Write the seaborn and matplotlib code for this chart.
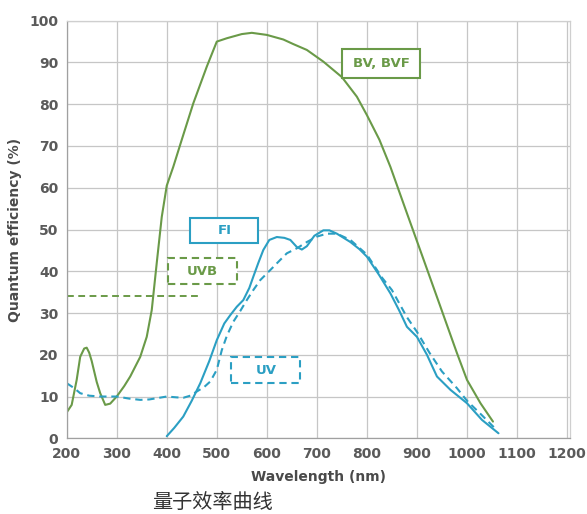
import matplotlib
matplotlib.use("Agg")
import matplotlib.pyplot as plt
import seaborn as sns
from matplotlib.patches import Rectangle

# BV, BVF (green solid)
bv_wl = [200, 210, 220, 227, 235, 240, 245, 250, 260, 267, 277, 287, 300, 315, 327,
         347, 360, 370, 380, 390, 400, 413, 430, 453, 480, 500, 520, 550, 570, 600,
         633, 653, 680, 713, 750, 780, 800, 825, 847, 880, 910, 947, 980, 1000, 1027, 1052]
bv_qe = [6.2, 8, 14, 19.5, 21.5, 21.7, 20.5, 18.5, 13.5, 10.8, 8, 8.3, 10, 12.5, 14.8,
         19.5, 24.3, 30.7, 42, 53, 60.5, 65, 71.5, 80.2, 89, 95, 95.8, 96.8, 97.1, 96.6,
         95.5, 94.4, 93, 90.2, 86.5, 81.8, 77.4, 71.5, 65, 53.9, 43.9, 31.5, 20.4, 14, 8.4, 4]

# FI (blue solid)
fi_wl = [400, 415, 433, 450, 467, 485, 500, 515, 527, 540, 553, 565, 573, 583, 593,
         605, 620, 635, 647, 660, 670, 680, 695, 713, 725, 740, 767, 785, 800, 825,
         847, 865, 880, 900, 920, 940, 967, 1000, 1030, 1063]
fi_qe = [0.5, 2.5, 5.2, 9, 13.2, 18.5, 23.5, 27.5, 29.5, 31.5, 33.1, 36, 38.7, 42, 45.1,
         47.5, 48.2, 48, 47.5, 45.8, 45.2, 46, 48.5, 49.8, 49.8, 49, 47, 45.3, 43.5, 39,
         34.7, 30.5, 26.7, 24.3, 20, 14.8, 11.6, 8.4, 4.4, 1.2]

# UV (blue dashed)
uv_wl = [200, 215, 227, 245, 267, 300, 325, 347, 365, 380, 400, 420, 433, 447, 460,
         475, 487, 500, 510, 520, 533, 547, 560, 573, 587, 607, 625, 640, 660, 680,
         700, 720, 740, 767, 800, 830, 850, 880, 900, 925, 950, 980, 1000, 1030, 1055]
uv_qe = [13.2, 12, 10.8, 10.2, 10, 10, 9.5, 9.2, 9.3, 9.6, 10, 9.8, 9.7, 10.2, 11.2,
         12.3, 13.6, 16.4, 21.1, 24.5, 27.9, 30.5, 33.1, 35.5, 37.9, 40.3, 42.5, 44.3, 45.5, 47,
         48.3, 49, 49, 47.5, 44, 38.5, 35.5, 29, 25.5, 20.5, 16, 12, 9, 5.5, 2.5]

# UVB marker line (green dashed)
uvb_wl = [200, 463]
uvb_qe = [34, 34]

x_ticks = [200, 300, 400, 500, 600, 700, 800, 900, 1000, 1100, 1200]
y_ticks = [0, 10, 20, 30, 40, 50, 60, 70, 80, 90, 100]

green = "#6a9a48"
blue = "#2b9fc3"

sns.set_style("whitegrid")
plt.rcParams['font.family'] = ['DejaVu Sans', 'Noto Sans CJK SC']

fig = plt.figure(figsize=(5.87, 5.14), dpi=100)
ax = fig.add_axes([0.1136, 0.1473, 0.8575, 0.8124])

dash = (0, (3.5, 2.3))
sns.lineplot(x=bv_wl, y=bv_qe, ax=ax, color=green, lw=1.5, sort=False)
sns.lineplot(x=fi_wl, y=fi_qe, ax=ax, color=blue, lw=1.5, sort=False)
sns.lineplot(x=uv_wl, y=uv_qe, ax=ax, color=blue, lw=1.5, sort=False, linestyle=dash)
sns.lineplot(x=uvb_wl, y=uvb_qe, ax=ax, color=green, lw=1.4, sort=False, linestyle=dash)

ax.set_xlim(200, 1206)
ax.set_ylim(0, 100)
ax.set_xticks(x_ticks)
ax.set_yticks(y_ticks)
ax.grid(True, color="#c6c6c6", lw=0.9)
for s in ax.spines.values():
    s.set_color("#cfcfcf")
    s.set_linewidth(0.9)
ax.spines["left"].set_color("#a0a0a0")
ax.spines["bottom"].set_color("#a0a0a0")
ax.tick_params(axis="both", length=0, pad=6, labelsize=10, labelcolor="#5a5a5a")
for lab in ax.get_xticklabels() + ax.get_yticklabels():
    lab.set_fontweight("bold")

ax.set_xlabel("Wavelength (nm)", fontsize=10, fontweight="bold", color="#4a4a4a", labelpad=7)
ax.set_ylabel("Quantum efficiency (%)", fontsize=10, fontweight="bold", color="#4a4a4a", labelpad=5)


def label_box(x0, x1, y0, y1, text, color, dashed=False):
    ls = (0, (3.5, 2.3)) if dashed else "-"
    ax.add_patch(Rectangle((x0, y0), x1 - x0, y1 - y0, fill=True, facecolor="white",
                           edgecolor=color, lw=1.5, linestyle=ls, zorder=5))
    ax.text((x0 + x1) / 2, (y0 + y1) / 2, text, color=color, fontsize=9.5,
            fontweight="bold", ha="center", va="center", zorder=6)


label_box(751, 907, 86.4, 93.2, "BV, BVF", green)
label_box(447, 583, 46.7, 52.7, "FI", blue)
label_box(402, 540, 36.9, 43.1, "UVB", green, dashed=True)
label_box(529, 667, 13.2, 19.4, "UV", blue, dashed=True)

fig.text(212 / 587, 1 - 502 / 514, "量子效率曲线", fontsize=14.5, color="#333333",
         ha="center", va="center", family=['Noto Sans CJK SC', 'DejaVu Sans'])

fig.savefig("out.png", dpi=100)
